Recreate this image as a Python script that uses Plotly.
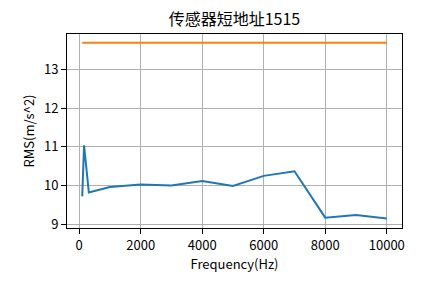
import plotly.graph_objects as go

freq = [100, 160, 315, 1000, 2000, 3000, 4000, 5000, 6000, 7000, 8000, 9000, 10000]
rms = [9.72, 11.04, 9.82, 9.96, 10.03, 10.0, 10.12, 9.99, 10.25, 10.37, 9.17, 9.24, 9.15]
limit_freq = [100, 10000]
limit_val = [13.69, 13.69]

title = "传感器短地址1515"
xlabel = "Frequency(Hz)"
ylabel = "RMS(m/s^2)"
xticks = [0, 2000, 4000, 6000, 8000, 10000]
yticks = [9, 10, 11, 12, 13]

FONT = "Noto Sans CJK SC, sans-serif"

fig = go.Figure()
fig.add_trace(go.Scatter(x=freq, y=rms, mode="lines",
                         line=dict(color="#1f77b4", width=2), showlegend=False))
fig.add_trace(go.Scatter(x=limit_freq, y=limit_val, mode="lines",
                         line=dict(color="#ff7f0e", width=2), showlegend=False))

axis_common = dict(showgrid=True, gridcolor="#b0b0b0", gridwidth=1,
                   showline=True, linecolor="black", linewidth=1, mirror=True,
                   ticks="outside", ticklen=5, tickwidth=1, tickcolor="black",
                   zeroline=False, tickfont=dict(family=FONT, size=13, color="black"))

fig.update_layout(
    width=445, height=283,
    margin=dict(l=67, r=43, t=34, b=55),
    paper_bgcolor="white", plot_bgcolor="white",
    title=dict(text=title, x=0.5, xref="paper", y=1 - 19 / 283, yref="container",
               yanchor="middle", xanchor="center",
               font=dict(family=FONT, size=16, color="black")),
    xaxis=dict(range=[-395, 10495], tickvals=xticks, ticktext=[str(t) for t in xticks],
               title=dict(text=xlabel, font=dict(family=FONT, size=13, color="black"), standoff=1),
               **axis_common),
    yaxis=dict(range=[8.903, 13.917], tickvals=yticks, ticktext=[str(t) for t in yticks],
               title=dict(text=ylabel, font=dict(family=FONT, size=13, color="black"), standoff=6),
               **axis_common),
)

fig.write_html("out.html")
